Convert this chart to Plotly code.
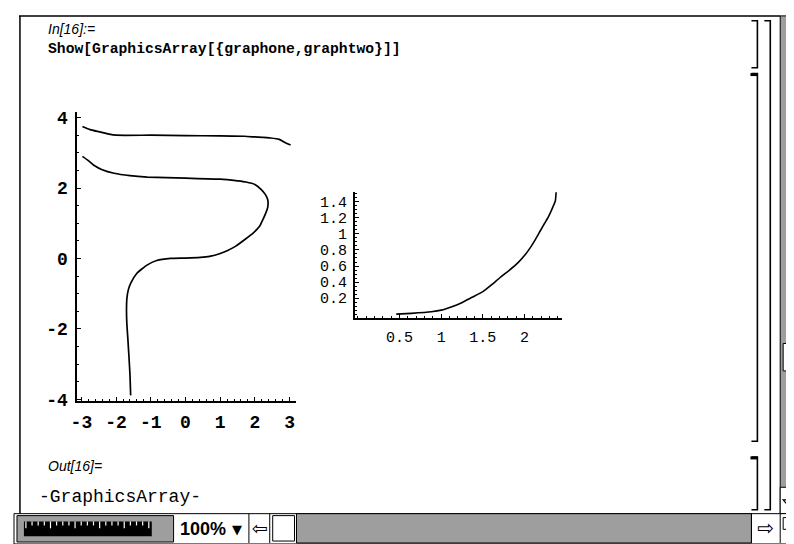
import plotly.graph_objects as go

W, H = 794, 544

# ── data ─────────────────────────────────────────────────────────────────────
# graphone: two branches of the contour
upper_x = [-2.97, -2.75, -2.5, -2.2, -2.0, -1.0, 0.0, 1.0, 1.7, 2.0, 2.45, 2.7, 2.85, 3.03]
upper_y = [3.75, 3.66, 3.6, 3.53, 3.5, 3.5, 3.49, 3.48, 3.47, 3.45, 3.42, 3.38, 3.3, 3.22]

lower_x = [-2.97, -2.8, -2.63, -2.4, -2.06, -1.6, -1.1, 0.0, 1.0, 1.5, 1.74, 2.0,
           2.17, 2.3, 2.37, 2.37, 2.31, 2.22, 2.14, 1.95, 1.74, 1.45, 1.2, 1.0,
           0.7, 0.43, 0.0, -0.43, -0.83, -1.11, -1.4, -1.57, -1.65, -1.69, -1.7,
           -1.69, -1.66, -1.63, -1.6, -1.58]
lower_y = [2.9, 2.78, 2.64, 2.52, 2.42, 2.35, 2.31, 2.28, 2.25, 2.2, 2.17, 2.1,
           1.97, 1.82, 1.67, 1.45, 1.28, 1.08, 0.92, 0.72, 0.56, 0.35, 0.22, 0.14,
           0.06, 0.03, 0.01, 0.0, -0.06, -0.19, -0.42, -0.69, -0.9, -1.15, -1.5,
           -1.86, -2.3, -2.78, -3.3, -3.89]

# graphtwo
right_x = [0.46, 0.64, 0.88, 1.0, 1.12, 1.24, 1.37, 1.5, 1.61, 1.71, 1.82, 1.92,
           2.0, 2.07, 2.13, 2.19, 2.24, 2.29, 2.33, 2.37, 2.38]
right_y = [0.0, 0.01, 0.03, 0.05, 0.09, 0.14, 0.21, 0.28, 0.37, 0.46, 0.55, 0.64,
           0.73, 0.83, 0.93, 1.04, 1.13, 1.22, 1.31, 1.41, 1.52]

left_xticks = [-3, -2, -1, 0, 1, 2, 3]
left_yticks = [-4, -2, 0, 2, 4]
right_xticks = [0.5, 1, 1.5, 2]
right_xtext = ['0.5', '1', '1.5', '2']
right_yticks = [0.2, 0.4, 0.6, 0.8, 1, 1.2, 1.4]
right_ytext = ['0.2', '0.4', '0.6', '0.8', '1', '1.2', '1.4']

INK = 'black'
DITHER = '#9e9e9e'
MONO = 'Liberation Mono'


def fx(px):
    return px / W


def fy(py):
    return 1 - py / H


def _axis(dom, rng, vals, text, size, weight, anchor, minor_step, standoff):
    return dict(
        domain=dom, range=rng, anchor=anchor, fixedrange=True,
        showgrid=False, zeroline=False,
        showline=True, linecolor=INK, linewidth=2,
        ticks='inside', ticklen=4, tickwidth=1, tickcolor=INK,
        tickmode='array', tickvals=vals, ticktext=text,
        ticklabelstandoff=standoff,
        tickfont=dict(family=MONO, size=size, color=INK, weight=weight),
        minor=dict(ticks='inside', ticklen=2, tickwidth=1, tickcolor=INK,
                   dtick=minor_step, tick0=0),
    )


fig = go.Figure()
for xs, ys in [(upper_x, upper_y), (lower_x, lower_y)]:
    fig.add_trace(go.Scatter(x=xs, y=ys, mode='lines', xaxis='x', yaxis='y',
                             line=dict(color=INK, width=1.7, shape='spline', smoothing=0.4),
                             hoverinfo='skip'))
fig.add_trace(go.Scatter(x=right_x, y=right_y, mode='lines', xaxis='x2', yaxis='y2',
                         line=dict(color=INK, width=1.6, shape='spline', smoothing=0.4),
                         hoverinfo='skip'))

# ── notebook chrome ──────────────────────────────────────────────────────────
shapes = []


def rect(x0, y0, x1, y1, fill='white', lw=1):
    shapes.append(dict(type='rect', xref='paper', yref='paper',
                       x0=fx(x0), x1=fx(x1), y0=fy(y1), y1=fy(y0),
                       fillcolor=fill, line=dict(color=INK, width=lw), layer='above'))


def line(x0, y0, x1, y1, lw=1, color=INK):
    shapes.append(dict(type='line', xref='paper', yref='paper',
                       x0=fx(x0), x1=fx(x1), y0=fy(y0), y1=fy(y1),
                       line=dict(color=color, width=lw), layer='above'))


def poly(pts, lw=1.2):
    path = 'M ' + ' L '.join(f'{fx(px)},{fy(py)}' for px, py in pts) + ' Z'
    shapes.append(dict(type='path', xref='paper', yref='paper', path=path,
                       fillcolor='white', line=dict(color=INK, width=lw), layer='above'))


def bracket(x, y0, y1, heavy=False):
    path = (f'M {fx(x - 6)},{fy(y0)} L {fx(x)},{fy(y0)} '
            f'L {fx(x)},{fy(y1)} L {fx(x - 6)},{fy(y1)}')
    shapes.append(dict(type='path', xref='paper', yref='paper', path=path,
                       line=dict(color=INK, width=1.6), layer='above'))
    if heavy:
        line(x - 7, y0 + 1, x, y0 + 1, lw=3)


# window frame
line(4, 5, 772, 5, lw=1.5)
line(5, 5, 5, 514, lw=1.5)

# cell brackets
bracket(749, 10, 58)
bracket(749, 64, 440, heavy=True)
bracket(749, 456, 510, heavy=True)
bracket(762, 10, 510)

# vertical scroll bar
rect(772, 5, 795, 514, fill=DITHER)
rect(775, 340, 795, 368)
rect(772, 487, 795, 514)
poly([(779, 491), (787, 491), (787, 500), (791, 500), (783, 509), (775, 500), (779, 500)])

# bottom status bar
rect(-1, 514, 795, 545)
rect(2, 516, 160, 543, fill=DITHER)
rect(9, 522, 138, 537, fill=INK, lw=0)
for i in range(21):
    xt = 11 + i * 6.2
    line(xt, 522, xt, 529 if i % 4 == 0 else 526, lw=1.2, color='white')
line(236, 514, 236, 544)
line(257, 514, 257, 544)
rect(260, 516, 282, 542)
rect(284, 514, 743, 544, fill=DITHER)
line(743, 514, 743, 544)
line(772, 514, 772, 544)
rect(775, 518, 785, 530)
rect(780, 526, 790, 540)

annotations = [
    dict(text='In[16]:=', x=fx(31), y=fy(18), font=dict(family='Liberation Sans', size=14, style='italic')),
    dict(text='Show[GraphicsArray[{graphone,graphtwo}]]', x=fx(31), y=fy(39),
         font=dict(family=MONO, size=14.7, weight='bold')),
    dict(text='Out[16]=', x=fx(31), y=fy(465), font=dict(family='Liberation Sans', size=14, style='italic')),
    dict(text='-GraphicsArray-', x=fx(22), y=fy(497), font=dict(family=MONO, size=18)),
    dict(text='100%', x=fx(164), y=fy(530), font=dict(family='Liberation Sans', size=18, weight='bold')),
    dict(text='▼', x=fx(217), y=fy(530), font=dict(family='DejaVu Sans', size=13)),
    dict(text='⇦', x=fx(237), y=fy(529), font=dict(family='DejaVu Sans', size=19)),
    dict(text='⇨', x=fx(757), y=fy(529), xanchor='center', font=dict(family='DejaVu Sans', size=20)),
]
for a in annotations:
    a.setdefault('xanchor', 'left')
    a.update(xref='paper', yref='paper', yanchor='middle', showarrow=False)
    a['font'].setdefault('color', INK)

fig.update_layout(
    width=W, height=H, autosize=False,
    margin=dict(l=0, r=0, t=0, b=0),
    paper_bgcolor='white', plot_bgcolor='white',
    showlegend=False,
    xaxis=_axis([fx(63), fx(283)], [-3.114, 3.171], left_xticks, [str(v) for v in left_xticks],
                18, 'bold', 'y', 0.2, 3),
    yaxis=_axis([fy(399), fy(103)], [-4.056, 4.167], left_yticks, [str(v) for v in left_yticks],
                18, 'bold', 'x', 0.5, 4),
    xaxis2=_axis([fx(343), fx(552)], [-0.036, 2.452], right_xticks, right_xtext,
                 15, 'normal', 'y2', 0.1, 4),
    yaxis2=_axis([fy(314), fy(185)], [-0.049, 1.524], right_yticks, right_ytext,
                 15, 'normal', 'x2', 0.05, 3),
    shapes=shapes,
    annotations=annotations,
)

fig.write_html('out.html')
